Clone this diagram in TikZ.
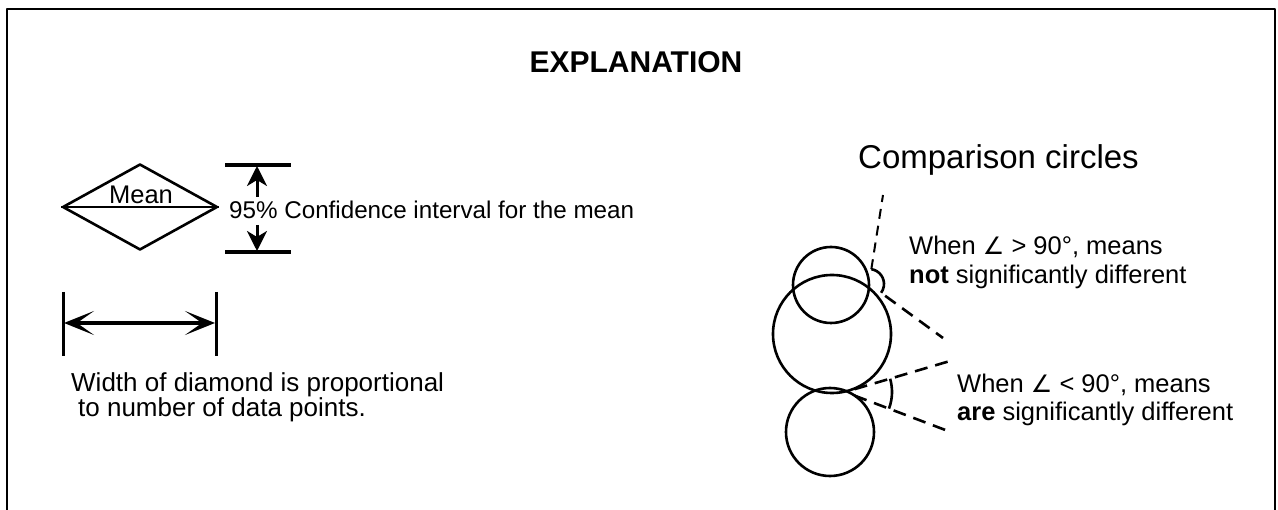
\documentclass[tikz,border=0pt]{standalone}
\usepackage{fontspec}
\setmainfont{Liberation Sans}
\newfontfamily\symfont{DejaVu Sans}
\usetikzlibrary{shapes.geometric,arrows.meta,calc}
\tikzset{
  barb/.tip={Stealth[length=30pt,width=24pt,inset=17pt]},
  vhead/.tip={Stealth[length=20pt,width=20pt,inset=6pt]}
}
\begin{document}
\begin{tikzpicture}[x=1pt,y=-1pt,line join=round,
  txt/.style={font=\fontsize{25.5}{30}\selectfont, inner sep=0pt, anchor=base west},
  ln/.style={line width=2.6pt},
  bar/.style={line width=3.2pt},
  dsh/.style={line width=2.6pt, dash pattern=on 13pt off 8pt},
  dshthin/.style={line width=2pt, dash pattern=on 10pt off 7pt},
  ring/.style={draw, circle, inner sep=0pt, line width=2.6pt}
]
\useasboundingbox (0,0) rectangle (1278,510);
% frame
\coordinate (fl) at (7,515);
\coordinate (ftl) at (7,9);
\coordinate (ftr) at (1275,9);
\coordinate (fr) at (1275,515);
\draw[line width=2.6pt] (fl) -- (ftl) -- (ftr) -- (fr);

\node[font=\bfseries\fontsize{30}{34}\selectfont, inner sep=0pt] (title) at (636,62) {EXPLANATION};

% diamond
\node[draw, diamond, line width=2.6pt, minimum width=155pt, minimum height=86pt, inner sep=0pt] (dia) at (140,207) {};
\draw[ln] (dia.west) -- (dia.east);
\node[txt, anchor=base] (mean) at (141,204) {Mean};

% confidence interval
\coordinate (t1) at (225,165); \coordinate (t2) at (291,165);
\coordinate (b1) at (225,252); \coordinate (b2) at (291,252);
\draw[bar] (t1) -- (t2);
\draw[bar] (b1) -- (b2);
\coordinate (ta) at (257,166); \coordinate (ts) at (257,197);
\coordinate (ba) at (257,251); \coordinate (bs) at (257,225);
\draw[line width=3pt, -{vhead}] (ts) -- (ta);
\draw[line width=3pt, -{vhead}] (bs) -- (ba);
\node[txt, font=\fontsize{24.2}{30}\selectfont] (ci) at (229,219) {95\% Confidence interval for the mean};

% width bracket
\coordinate (wl1) at (63,292); \coordinate (wl2) at (63,356);
\coordinate (wr1) at (216,292); \coordinate (wr2) at (216,356);
\draw[line width=3pt] (wl1) -- (wl2);
\draw[line width=3pt] (wr1) -- (wr2);
\coordinate (al) at (64,323); \coordinate (ar) at (215,323);
\draw[line width=3.2pt, {barb}-{barb}] (al) -- (ar);
\node[txt, font=\fontsize{26}{30}\selectfont] (wd1) at (71,392) {Width of diamond is proportional};
\node[txt, font=\fontsize{26}{30}\selectfont] (wd2) at (78,417) {to number of data points.};

% comparison circles
\node[font=\fontsize{33}{38}\selectfont, inner sep=0pt, anchor=base west] (cc) at (858,169) {Comparison circles};
\node[ring, minimum size=76pt] (ca) at (831,285) {};
\node[ring, minimum size=118pt] (cb) at (832,334) {};
\node[ring, minimum size=88pt] (cc2) at (830,432) {};

% upper angle (> 90)
\coordinate (P) at (869,284);
\coordinate (u1) at (883,195);
\coordinate (u2) at (943,338);
\draw[dshthin] ($(P)!15pt!(u1)$) -- (u1);
\draw[dsh] ($(P)!20pt!(u2)$) -- (u2);
\draw[ln] ($(P)+(81:15pt)$) arc[start angle=81, end angle=-36, radius=15pt];

% lower angle (< 90)
\coordinate (Q) at (845,392);
\coordinate (v1) at (950,361);
\coordinate (v2) at (948,431);
\draw[dsh] ($(Q)!10pt!(v1)$) -- (v1);
\draw[dsh] ($(Q)!10pt!(v2)$) -- (v2);
\draw[ln] ($(Q)+(16.4:47pt)$) arc[start angle=16.4, end angle=-20.7, radius=47pt];

\node[txt] (n1) at (909,255) {When {\symfont\fontsize{24}{28}\selectfont ∠} > 90°, means};
\node[txt] (n2) at (909,284) {\textbf{not} significantly different};
\node[txt] (n3) at (957,393) {When {\symfont\fontsize{24}{28}\selectfont ∠} < 90°, means};
\node[txt] (n4) at (957,421) {\textbf{are} significantly different};
\end{tikzpicture}
\end{document}
